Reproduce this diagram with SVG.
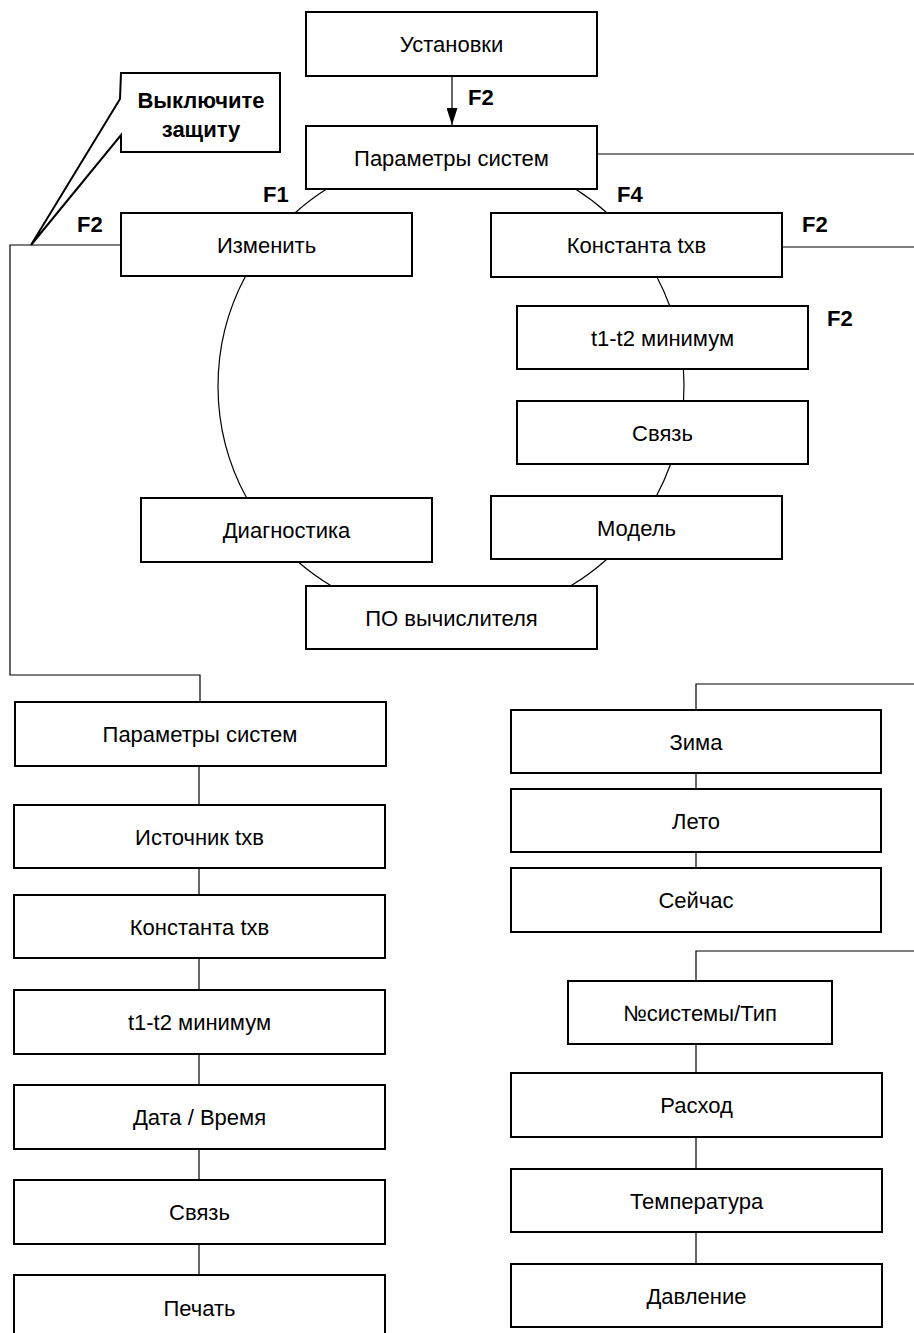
<svg xmlns="http://www.w3.org/2000/svg" width="914" height="1333" viewBox="0 0 914 1333">
<style>
.box{fill:#fff;stroke:#000;stroke-width:2}
.lbl{font-family:"Liberation Sans",Arial,sans-serif;font-size:22px;fill:#000;text-anchor:middle}
.key{font-family:"Liberation Sans",Arial,sans-serif;font-size:22px;font-weight:bold;fill:#000}
.con{fill:none;stroke:#000;stroke-width:1.2}
</style>
<defs>
<marker id="arr" viewBox="0 0 17 11" refX="17" refY="5.5" markerWidth="17" markerHeight="11" orient="auto" markerUnits="userSpaceOnUse">
<path d="M0,0 L17,5.5 L0,11 z" fill="#000"/>
</marker>
</defs>
<rect width="914" height="1333" fill="#fff"/>
<g id="connectors">
<line class="con" x1="452" y1="76" x2="452" y2="125" marker-end="url(#arr)"/>
<line class="con" x1="597" y1="154" x2="914" y2="154"/>
<line class="con" x1="780" y1="247" x2="914" y2="247"/>
<path class="con" d="M326.6,189 A233,233 0 0 0 294.9,213"/>
<path class="con" d="M575.4,189 A233,233 0 0 1 607.1,213"/>
<path class="con" d="M245.6,276 A233,233 0 0 0 246.7,498"/>
<path class="con" d="M298.3,562 A233,233 0 0 0 331.5,586"/>
<path class="con" d="M656.9,277 A233,233 0 0 1 669.8,306"/>
<path class="con" d="M683.4,369 A233,233 0 0 1 683.5,401"/>
<path class="con" d="M670.6,464 A233,233 0 0 1 656.4,496"/>
<path class="con" d="M607.1,559 A233,233 0 0 1 570.5,586"/>
<polyline class="con" points="121,245 10,245 10,675 200,675 200,702"/>
<line class="con" x1="199" y1="766" x2="199" y2="805"/>
<line class="con" x1="199" y1="868" x2="199" y2="895"/>
<line class="con" x1="199" y1="958" x2="199" y2="990"/>
<line class="con" x1="199" y1="1054" x2="199" y2="1085"/>
<line class="con" x1="199" y1="1149" x2="199" y2="1180"/>
<line class="con" x1="199" y1="1244" x2="199" y2="1275"/>
<polyline class="con" points="914,684 696,684 696,710"/>
<line class="con" x1="696" y1="773" x2="696" y2="789"/>
<line class="con" x1="696" y1="852" x2="696" y2="868"/>
<polyline class="con" points="914,951 696,951 696,981"/>
<line class="con" x1="696" y1="1044" x2="696" y2="1073"/>
<line class="con" x1="696" y1="1137" x2="696" y2="1169"/>
<line class="con" x1="696" y1="1232" x2="696" y2="1264"/>
</g>
<g id="labels">
<text class="key" x="468" y="105">F2</text>
<text class="key" x="263" y="202">F1</text>
<text class="key" x="617" y="202">F4</text>
<text class="key" x="77" y="232">F2</text>
<text class="key" x="802" y="232">F2</text>
<text class="key" x="827" y="326">F2</text>
</g>
<g id="callout">
<polygon points="121,73 280,73 280,152 121,152 121,135 31,245 120,99" fill="#fff" stroke="#000" stroke-width="2" stroke-linejoin="miter"/>
<text class="key" x="201" y="108" text-anchor="middle">Выключите</text>
<text class="key" x="201" y="137" text-anchor="middle">защиту</text>
</g>
<g id="n-ustanovki"><rect class="box" x="306" y="12" width="291" height="64"/><text class="lbl" x="451.5" y="52">Установки</text></g>
<g id="n-params"><rect class="box" x="306" y="126" width="291" height="63"/><text class="lbl" x="451.5" y="165.5">Параметры систем</text></g>
<g id="n-izmenit"><rect class="box" x="121" y="213" width="291" height="63"/><text class="lbl" x="266.5" y="252.5">Изменить</text></g>
<g id="n-konst"><rect class="box" x="491" y="213" width="291" height="64"/><text class="lbl" x="636.5" y="253">Константа txв</text></g>
<g id="n-t1t2"><rect class="box" x="517" y="306" width="291" height="63"/><text class="lbl" x="662.5" y="345.5">t1-t2 минимум</text></g>
<g id="n-svyaz"><rect class="box" x="517" y="401" width="291" height="63"/><text class="lbl" x="662.5" y="440.5">Связь</text></g>
<g id="n-model"><rect class="box" x="491" y="496" width="291" height="63"/><text class="lbl" x="636.5" y="535.5">Модель</text></g>
<g id="n-diag"><rect class="box" x="141" y="498" width="291" height="64"/><text class="lbl" x="286.5" y="538">Диагностика</text></g>
<g id="n-po"><rect class="box" x="306" y="586" width="291" height="63"/><text class="lbl" x="451.5" y="625.5">ПО вычислителя</text></g>
<g id="n-l-params"><rect class="box" x="15" y="702" width="371" height="64"/><text class="lbl" x="200" y="742">Параметры систем</text></g>
<g id="n-l-istochnik"><rect class="box" x="14" y="805" width="371" height="63"/><text class="lbl" x="199.5" y="844.5">Источник txв</text></g>
<g id="n-l-konst"><rect class="box" x="14" y="895" width="371" height="63"/><text class="lbl" x="199.5" y="934.5">Константа txв</text></g>
<g id="n-l-t1t2"><rect class="box" x="14" y="990" width="371" height="64"/><text class="lbl" x="199.5" y="1030">t1-t2 минимум</text></g>
<g id="n-l-data"><rect class="box" x="14" y="1085" width="371" height="64"/><text class="lbl" x="199.5" y="1125">Дата / Время</text></g>
<g id="n-l-svyaz"><rect class="box" x="14" y="1180" width="371" height="64"/><text class="lbl" x="199.5" y="1220">Связь</text></g>
<g id="n-l-pechat"><rect class="box" x="14" y="1275" width="371" height="80"/><text class="lbl" x="199.5" y="1315.5">Печать</text></g>
<g id="n-zima"><rect class="box" x="511" y="710" width="370" height="63"/><text class="lbl" x="696" y="749.5">Зима</text></g>
<g id="n-leto"><rect class="box" x="511" y="789" width="370" height="63"/><text class="lbl" x="696" y="828.5">Лето</text></g>
<g id="n-seichas"><rect class="box" x="511" y="868" width="370" height="64"/><text class="lbl" x="696" y="908">Сейчас</text></g>
<g id="n-nsys"><rect class="box" x="568" y="981" width="264" height="63"/><text class="lbl" x="700" y="1020.5">№системы/Тип</text></g>
<g id="n-rashod"><rect class="box" x="511" y="1073" width="371" height="64"/><text class="lbl" x="696.5" y="1113">Расход</text></g>
<g id="n-temp"><rect class="box" x="511" y="1169" width="371" height="63"/><text class="lbl" x="696.5" y="1208.5">Температура</text></g>
<g id="n-davl"><rect class="box" x="511" y="1264" width="371" height="63"/><text class="lbl" x="696.5" y="1303.5">Давление</text></g>
</svg>
